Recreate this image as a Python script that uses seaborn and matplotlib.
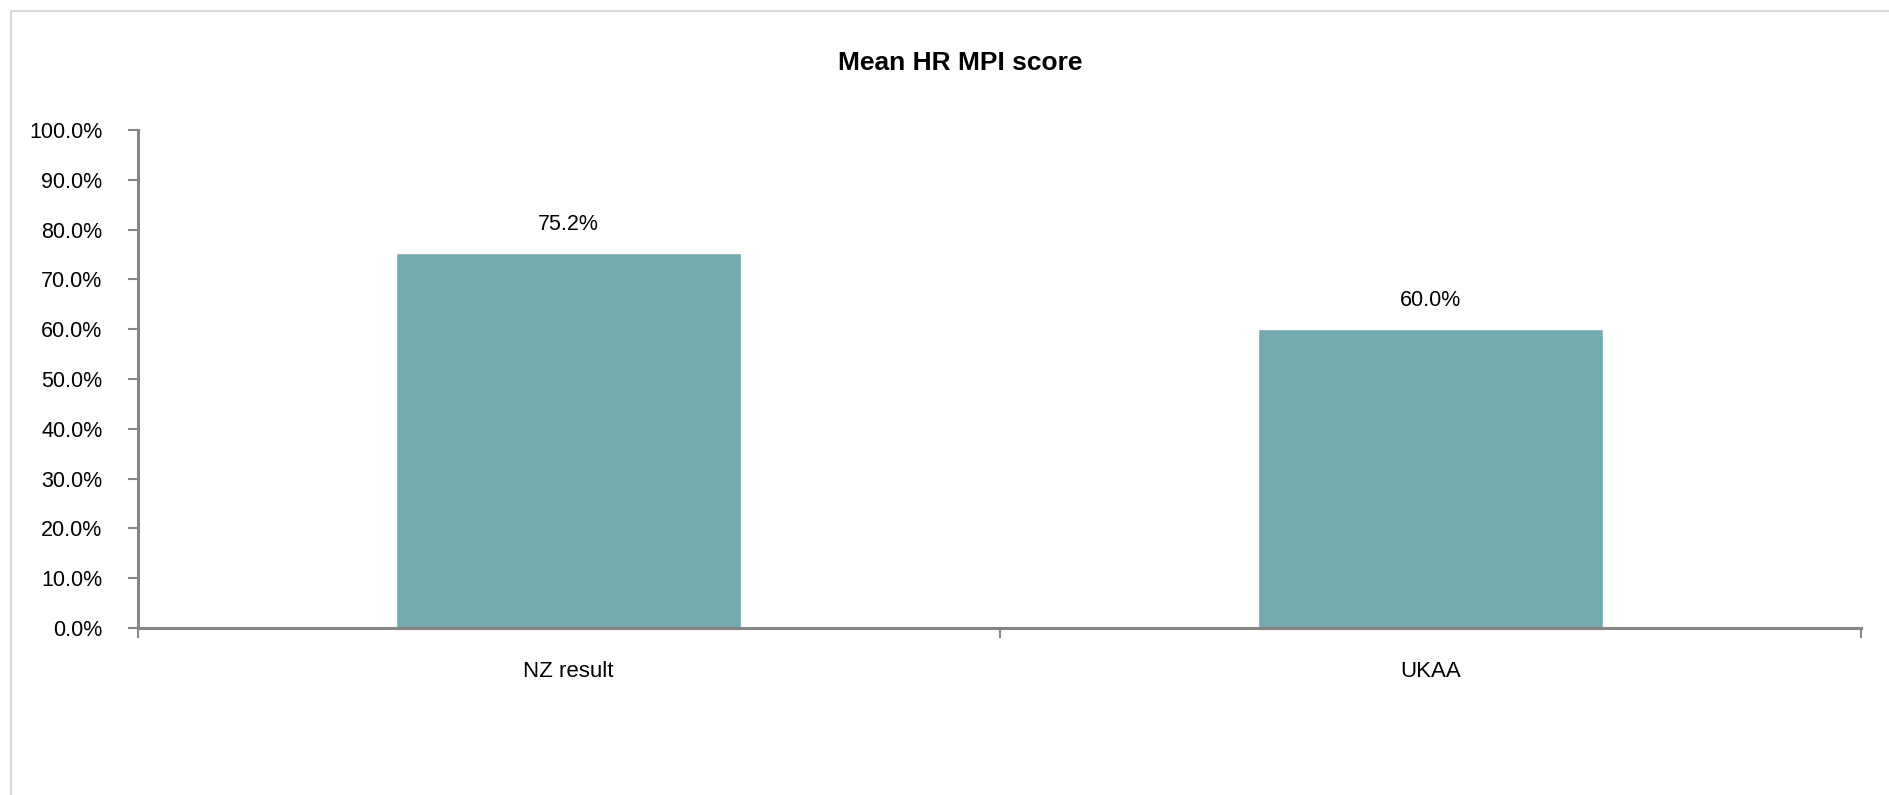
import matplotlib
matplotlib.use("Agg")
import matplotlib.pyplot as plt
from matplotlib.patches import Rectangle
from matplotlib.ticker import PercentFormatter
import seaborn as sns
import pandas as pd

# Chart data
categories = ["NZ result", "UKAA"]
scores = [75.2, 60.0]
y_ticks = [0, 10, 20, 30, 40, 50, 60, 70, 80, 90, 100]

title = "Mean HR MPI score"
bar_color = "#75AAB0"
axis_color = "#868686"

sns.set_theme(style="white")
plt.rcParams["font.family"] = ["Liberation Sans", "DejaVu Sans"]

df = pd.DataFrame({"category": categories, "score": scores})

fig = plt.figure(figsize=(18.9, 7.95), dpi=100)
ax = fig.add_axes([0.0730, 0.2101, 0.9117, 0.6264])

sns.barplot(data=df, x="category", y="score", color=bar_color, width=0.4,
            saturation=1, ax=ax)

ax.set_xlim(-0.5, len(categories) - 0.5)
ax.set_ylim(0, 100)
ax.set_yticks(y_ticks)
ax.yaxis.set_major_formatter(PercentFormatter(decimals=1))
ax.set_xlabel("")
ax.set_ylabel("")

# Category-boundary ticks on the x axis, labels at bar centres
ax.set_xticks([i - 0.5 for i in range(len(categories) + 1)], minor=False)
ax.set_xticklabels([])
ax.set_xticks(range(len(categories)), minor=True)
ax.set_xticklabels(categories, minor=True)
ax.tick_params(axis="x", which="major", direction="out", length=7.5,
               width=1.5, color=axis_color, bottom=True)
ax.tick_params(axis="x", which="minor", length=0, pad=24, labelsize=16,
               labelcolor="black")
ax.tick_params(axis="y", direction="out", length=7.5, width=1.5,
               color=axis_color, left=True, pad=18, labelsize=15.5,
               labelcolor="black")

for side in ["top", "right"]:
    ax.spines[side].set_visible(False)
for side in ["left", "bottom"]:
    ax.spines[side].set_color(axis_color)
    ax.spines[side].set_linewidth(2.2)

# Value labels above bars
for container in ax.containers:
    ax.bar_label(container, labels=[f"{v:.1f}%" for v in scores],
                 padding=13, fontsize=15.5, color="black")

fig.text(0.508, 0.921, title, ha="center", va="center", fontsize=19,
         fontweight="bold", color="black")

# Outer chart frame
fig.patches.append(Rectangle((11 / 1890, -0.1), 1.2, 1.1 - 11 / 795,
                             transform=fig.transFigure, fill=False,
                             edgecolor="#D9D9D9", linewidth=1.5))

fig.savefig("out.png", dpi=100, facecolor="white")
